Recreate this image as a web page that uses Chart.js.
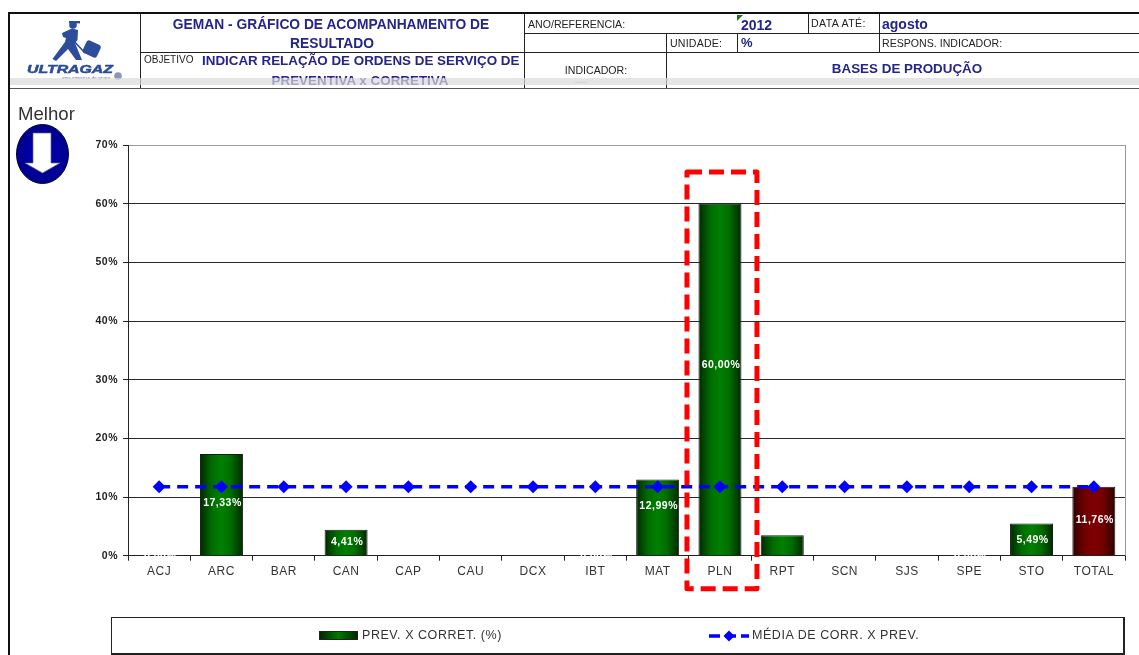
<!DOCTYPE html>
<html>
<head>
<meta charset="utf-8">
<title>GEMAN</title>
<script src="https://cdn.jsdelivr.net/npm/chart.js@4"></script>
<style>
html,body{margin:0;padding:0;background:#fff;}
body{width:1139px;height:655px;overflow:hidden;position:relative;font-family:"Liberation Sans",Arial,sans-serif;}
#chart{position:absolute;left:0;top:0;}
.ln{position:absolute;background:#222;}
.t{position:absolute;white-space:nowrap;line-height:1;}
.lab{font-size:10.6px;color:#222;}
.blue{font-weight:bold;color:#24248c;}
.c{transform:translateX(-50%);}
#band{position:absolute;left:10px;top:78px;width:1129px;height:7px;background:rgba(218,218,218,.7);}
#legend{position:absolute;left:111px;top:617px;width:1011px;height:35px;border:1px solid #222;border-width:1px 2px 2px 1px;}
.swatch{position:absolute;left:207px;top:13px;width:39px;height:9px;border:1px solid #222;box-sizing:border-box;background:linear-gradient(90deg,#002800,#007a00 50%,#002800);}
</style>
</head>
<body>
<canvas id="chart" width="1139" height="655"></canvas>

<!-- frame and header grid -->
<div class="ln" style="left:8px;top:12px;width:1131px;height:2px;background:#111"></div>
<div class="ln" style="left:8px;top:12px;width:2px;height:643px;background:#111"></div>
<div class="ln" style="left:140px;top:14px;width:1px;height:74px"></div>
<div class="ln" style="left:524px;top:14px;width:1px;height:74px"></div>
<div class="ln" style="left:140px;top:52px;width:999px;height:1px"></div>
<div class="ln" style="left:524px;top:33px;width:615px;height:1px"></div>
<div class="ln" style="left:666px;top:33px;width:1px;height:55px"></div>
<div class="ln" style="left:737px;top:33px;width:1px;height:19px"></div>
<div class="ln" style="left:808px;top:14px;width:1px;height:19px"></div>
<div class="ln" style="left:879px;top:14px;width:1px;height:38px"></div>
<div class="ln" style="left:10px;top:88px;width:1129px;height:1px;background:#555"></div>

<!-- logo -->
<svg style="position:absolute;left:20px;top:18px" width="112" height="68" viewBox="0 0 112 68">
  <g fill="#2c4c9c">
    <circle cx="53" cy="7" r="3.8"/>
    <path d="M49 3h11v2.4h-11z"/>
    <path d="M42 15 L52 10.5 L58 12 L57.5 22 L55 25 L62 42 L56 42 L48 31 L36 43 L32.5 41 L45 24 L46 20 L43 19 Z"/>
    <rect x="64" y="24" width="15.5" height="14" rx="3" transform="rotate(25 71.7 31)"/>
  </g>
  <path d="M52 21 L65 35" stroke="#2c4c9c" stroke-width="1.6"/>
  <text x="7" y="55" font-family="Liberation Sans" font-size="11.5" font-weight="bold" font-style="italic" fill="#2c4c9c" stroke="#2c4c9c" stroke-width=".5" textLength="86" lengthAdjust="spacingAndGlyphs">ULTRAGAZ</text>
  <text x="42" y="60.5" font-family="Liberation Sans" font-size="4.2" fill="#5a6fa8" textLength="48">uma empresa do grupo</text>
  <circle cx="98" cy="58" r="3.8" fill="#8a96b8"/>
</svg>

<div class="t blue c" style="left:331px;top:18px;font-size:13.8px">GEMAN - GRÁFICO DE ACOMPANHAMENTO DE</div>
<div class="t blue c" style="left:332px;top:37px;font-size:13.8px">RESULTADO</div>
<div class="t" style="left:144px;top:55px;font-size:10px;color:#222">OBJETIVO</div>
<div class="t blue" style="left:202px;top:54px;font-size:13.4px">INDICAR RELAÇÃO DE ORDENS DE SERVIÇO DE</div>
<div class="t blue c" style="left:360px;top:74px;font-size:13.4px">PREVENTIVA x CORRETIVA</div>

<div class="t lab" style="left:528px;top:19px">ANO/REFERENCIA:</div>
<svg style="position:absolute;left:737px;top:15px" width="6" height="6"><path d="M0 0H6L0 6Z" fill="#1a7a1a"/></svg>
<div class="t blue" style="left:741px;top:18px;font-size:14px">2012</div>
<div class="t lab" style="left:811px;top:18px;letter-spacing:.4px">DATA ATÉ:</div>
<div class="t blue" style="left:882px;top:17px;font-size:14px">agosto</div>
<div class="t lab" style="left:670px;top:38px;letter-spacing:.2px">UNIDADE:</div>
<div class="t blue" style="left:741px;top:36px;font-size:13px">%</div>
<div class="t lab" style="left:882px;top:38px">RESPONS. INDICADOR:</div>
<div class="t lab c" style="left:596px;top:65px">INDICADOR:</div>
<div class="t blue c" style="left:907px;top:62px;font-size:13.4px">BASES DE PRODUÇÃO</div>
<div class="t c" style="left:581px;top:80px;font-size:8px;color:#bbb">****</div>
<div id="band"></div>

<!-- melhor -->
<div class="t" style="left:18px;top:105px;font-size:18.6px;color:#333">Melhor</div>
<svg style="position:absolute;left:15px;top:123px" width="55" height="62" viewBox="0 0 55 62">
  <defs><radialGradient id="g" cx=".5" cy=".5" r=".6"><stop offset="0" stop-color="#0000c8"/><stop offset=".8" stop-color="#00008c"/><stop offset="1" stop-color="#000050"/></radialGradient></defs>
  <ellipse cx="27.5" cy="31" rx="26" ry="29.5" fill="url(#g)" stroke="#000040"/>
  <path d="M18 10H36V40H45L27.5 50L10 40H18Z" fill="#fff" stroke="#666" stroke-width="0.7"/>
</svg>

<div id="legend">
  <div class="swatch"></div>
  <div class="t" style="left:250px;top:11px;font-size:12.5px;color:#333;letter-spacing:.55px">PREV. X CORRET. (%)</div>
  <svg style="position:absolute;left:596px;top:11px" width="44" height="14" viewBox="0 0 44 14">
    <path d="M1 7H41" stroke="#0000ff" stroke-width="3.5" stroke-dasharray="11 5"/>
    <path d="M21 1.5L26.5 7L21 12.5L15.5 7Z" fill="#0000ff"/>
  </svg>
  <div class="t" style="left:640px;top:11px;font-size:12.5px;color:#333;letter-spacing:.55px">MÉDIA DE CORR. X PREV.</div>
</div>

<script>
// values
const categories = ['ACJ','ARC','BAR','CAN','CAP','CAU','DCX','IBT','MAT','PLN','RPT','SCN','SJS','SPE','STO','TOTAL'];
const prevCorret = [0,17.33,0,4.41,0,0,0,0,12.99,60,3.5,0,0,0,5.49,11.76];
const mediaCorrPrev = [11.76,11.76,11.76,11.76,11.76,11.76,11.76,11.76,11.76,11.76,11.76,11.76,11.76,11.76,11.76,11.76];
const barLabels = ['0,00%','17,33%','','4,41%','','','','0,00%','12,99%','60,00%','','','','0,00%','5,49%','11,76%'];
// height (in axis units) where each label sits, the original is not exactly centred
const labelHeights = [0,9,0,2.4,0,0,0,0,8.5,32.5,0,0,0,0,2.7,6];
const yTicks = [0,10,20,30,40,50,60,70];

const BAR_PCT = 0.69;

function barFill(ctx){
  const chart = ctx.chart;
  const last = ctx.dataIndex === categories.length - 1;
  const fallback = last ? '#800000' : '#008000';
  if(!chart.chartArea || !chart.scales.x) return fallback;
  const xs = chart.scales.x;
  const half = xs.width / categories.length * BAR_PCT / 2;
  const mid = xs.getPixelForValue(ctx.dataIndex);
  const g = chart.ctx.createLinearGradient(mid - half, 0, mid + half, 0);
  const edge = last ? '#2c0000' : '#002800';
  const near = last ? '#700000' : '#006c00';
  g.addColorStop(0, edge);
  g.addColorStop(0.28, near);
  g.addColorStop(0.5, fallback);
  g.addColorStop(0.72, near);
  g.addColorStop(1, edge);
  return g;
}

// the screenshot text is spaced out a little, applies to all canvas text
const spacing = {
  id: 'spacing',
  beforeDraw(chart){ chart.ctx.letterSpacing = '0.5px'; }
};

// white value labels on the bars
const valueLabels = {
  id: 'valueLabels',
  afterDatasetsDraw(chart){
    const c = chart.ctx, xs = chart.scales.x, ys = chart.scales.y;
    c.save();
    c.font = 'bold 10.5px "Liberation Sans"';
    c.fillStyle = '#fff';
    c.textAlign = 'center';
    c.textBaseline = 'middle';
    barLabels.forEach((txt, i) => {
      if(txt) c.fillText(txt, xs.getPixelForValue(i) + 1, ys.getPixelForValue(labelHeights[i]));
    });
    c.restore();
  }
};

// right edge of the plot and the red dashed highlight round PLN
const extras = {
  id: 'extras',
  afterDraw(chart){
    const c = chart.ctx, xs = chart.scales.x, ys = chart.scales.y, a = chart.chartArea;
    c.save();
    c.strokeStyle = '#999';
    c.lineWidth = 1;
    c.beginPath();
    c.moveTo(a.right + 0.5, a.top);
    c.lineTo(a.right + 0.5, a.bottom);
    c.stroke();

    const mid = xs.getPixelForValue(categories.indexOf('PLN'));
    const left = mid - 33, right = mid + 37;
    const top = ys.getPixelForValue(65.4), bottom = a.bottom + 33;
    c.strokeStyle = '#ff0000';
    c.lineWidth = 5;
    c.setLineDash([15, 7]);
    c.lineJoin = 'round';
    c.beginPath();
    c.moveTo(left, top);
    c.lineTo(right, top);
    c.lineTo(right, bottom);
    c.lineTo(left, bottom);
    c.closePath();
    c.stroke();
    c.restore();
  }
};

new Chart(document.getElementById('chart'), {
  data: {
    labels: categories,
    datasets: [
      {
        type: 'line',
        label: 'MÉDIA DE CORR. X PREV.',
        data: mediaCorrPrev,
        borderColor: '#0000ff',
        backgroundColor: '#0000ff',
        borderWidth: 3.5,
        borderDash: [11, 7],
        pointStyle: 'rectRot',
        pointRadius: 6.5,
        pointBorderWidth: 0,
        fill: false,
        tension: 0,
        order: 1
      },
      {
        type: 'bar',
        label: 'PREV. X CORRET. (%)',
        data: prevCorret,
        backgroundColor: barFill,
        borderColor: '#1a1a1a',
        borderWidth: ctx => prevCorret[ctx.dataIndex] > 0 ? 1 : 0,
        barPercentage: BAR_PCT,
        categoryPercentage: 1,
        order: 2
      }
    ]
  },
  options: {
    responsive: false,
    animation: false,
    layout: { padding: { left: 0, right: 14, top: 145, bottom: 0 } },
    plugins: { legend: { display: false }, tooltip: { enabled: false } },
    scales: {
      x: {
        offset: true,
        afterFit(s){ s.height = 99.3; },
        grid: { offset: true, drawOnChartArea: false, drawTicks: true, tickLength: 5, color: '#222' },
        border: { color: '#222', width: 1 },
        ticks: {
          maxRotation: 0, autoSkip: false, color: '#333', padding: 4,
          font: { family: '"Liberation Sans"', size: 12 }
        }
      },
      y: {
        min: 0, max: 70,
        afterFit(s){ s.width = 128; },
        afterBuildTicks(s){ s.ticks = yTicks.map(v => ({ value: v })); },
        grid: {
          color: ctx => ctx.tick && ctx.tick.value === 70 ? '#999' : '#2a2a2a',
          tickLength: 5, tickColor: '#222'
        },
        border: { color: '#222', width: 1 },
        ticks: {
          color: '#222', padding: 5,
          font: { family: '"Liberation Sans"', size: 10.5, weight: 'bold' },
          callback: v => v + '%'
        }
      }
    }
  },
  plugins: [spacing, valueLabels, extras]
});
</script>
</body>
</html>
